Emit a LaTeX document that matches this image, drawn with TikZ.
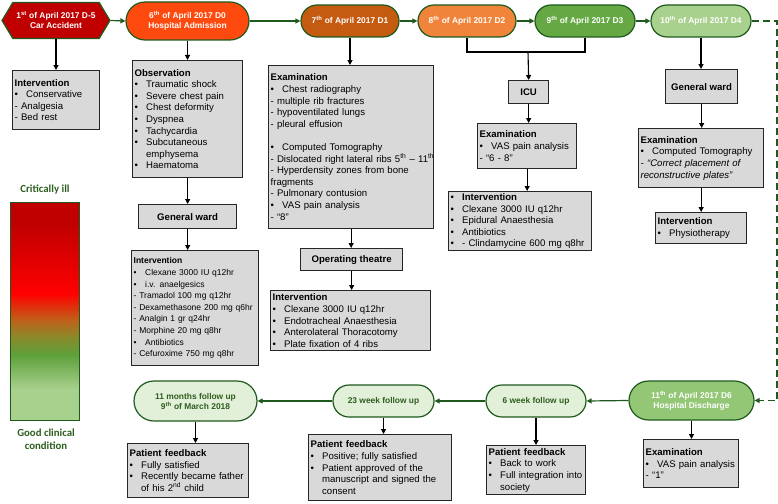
\documentclass[tikz,border=0pt]{standalone}
\usepackage{fontspec}
\setmainfont{Liberation Sans}
\newfontfamily\calfont{Carlito}
\usetikzlibrary{arrows.meta,shapes.misc,shapes.symbols}

\definecolor{accred}{HTML}{C00000}
\definecolor{admred}{HTML}{FF4A0F}
\definecolor{dayone}{HTML}{C55A11}
\definecolor{daytwo}{HTML}{F0843A}
\definecolor{daythree}{HTML}{66A843}
\definecolor{dayfour}{HTML}{A9D18E}
\definecolor{discharge}{HTML}{93C775}
\definecolor{followup}{HTML}{E2F0D9}
\definecolor{linegreen}{HTML}{1E5A1E}
\definecolor{textgreen}{HTML}{2E5E1E}
\definecolor{boxgray}{HTML}{D9D9D9}
\definecolor{shadeA}{HTML}{C00000}
\definecolor{shadeB}{HTML}{FF0000}
\definecolor{shadeC}{HTML}{C0601A}
\definecolor{shadeO}{HTML}{8A8A2A}
\definecolor{shadeD}{HTML}{5EA03A}
\definecolor{shadeE}{HTML}{A9D18E}

\pgfdeclareverticalshading{illness}{100bp}{color(0bp)=(shadeE); color(32bp)=(shadeE);
  color(40bp)=(shadeD); color(44bp)=(shadeO); color(48bp)=(shadeC); color(54bp)=(shadeB);
  color(70bp)=(shadeA); color(100bp)=(shadeA)}

\newcommand{\bl}[1]{\makebox[11.5pt][l]{\textbullet}#1}
\newcommand{\ind}{\hspace*{11.5pt}}

\tikzset{
  daynode/.style={rounded rectangle, draw=linegreen, line width=1.2pt, text=white,
    font=\fontsize{8.4pt}{10pt}\selectfont\bfseries, align=center, inner sep=1pt},
  fupnode/.style={daynode, fill=followup, text=textgreen},
  infobox/.style={draw=black!85, line width=1.3pt, fill=boxgray, anchor=north west,
    align=left, inner xsep=2pt, inner ysep=1.5pt, font=\fontsize{9.6pt}{11.6pt}\selectfont},
  smallbox/.style={infobox, font=\fontsize{8.5pt}{11.6pt}\selectfont},
  wardbox/.style={infobox, align=center, font=\fontsize{9.6pt}{11.6pt}\selectfont\bfseries},
  hdarrow/.style={draw=linegreen, line width=1.2pt, -{Triangle[length=5pt,width=5pt]}},
  dnarrow/.style={draw=black, line width=1.1pt, -{Triangle[length=5pt,width=5pt]}},
  sidelabel/.style={text=textgreen, font=\calfont\fontsize{10.8pt}{13pt}\selectfont\bfseries, align=center}
}

\begin{document}
\begin{tikzpicture}[x=1pt,y=-1pt]
  \useasboundingbox (0,0) rectangle (778,503);

  % timeline, top row
  \node[signal, signal to=west and east, signal pointer angle=118, draw=linegreen,
    line width=1.2pt, fill=accred, text=white, font=\fontsize{8.4pt}{10pt}\selectfont\bfseries,
    align=center, minimum width=108pt, minimum height=36pt, inner sep=1pt] (hex) at (56,20.5)
    {1\textsuperscript{st} of April 2017 D-5\\Car Accident};
  \node[daynode, fill=admred, minimum width=125pt, minimum height=38pt] (adm) at (187.5,21)
    {6\textsuperscript{th} of April 2017 D0\\Hospital Admission};
  \node[daynode, fill=dayone, minimum width=100pt, minimum height=32pt] (d1) at (350,21)
    {7\textsuperscript{th} of April 2017 D1};
  \node[daynode, fill=daytwo, minimum width=100pt, minimum height=32pt] (d2) at (467,21)
    {8\textsuperscript{th} of April 2017 D2};
  \node[daynode, fill=daythree, minimum width=102pt, minimum height=32pt] (d3) at (585,21)
    {9\textsuperscript{th} of April 2017 D3};
  \node[daynode, fill=dayfour, minimum width=102pt, minimum height=32pt] (d4) at (701,21)
    {10\textsuperscript{th} of April 2017 D4};

  % timeline, bottom row
  \node[daynode, fill=discharge, minimum width=127pt, minimum height=39pt] (dis) at (691.5,400.5)
    {11\textsuperscript{th} of April 2017 D6\\Hospital Discharge};
  \node[fupnode, minimum width=102pt, minimum height=32pt] (wk6) at (536,401) {6 week follow up};
  \node[fupnode, minimum width=103pt, minimum height=32pt] (wk23) at (383.5,401) {23 week follow up};
  \node[fupnode, minimum width=125pt, minimum height=40pt] (mo11) at (195.5,401)
    {11 months follow up\\9\textsuperscript{th} of March 2018};

  % D-5
  \node[infobox, text width=83pt, minimum height=59pt] (int0) at (12,70)
    {\textbf{Intervention}\\\bl{Conservative}\\- Analgesia\\- Bed rest};

  % D0
  \node[infobox, text width=106pt, minimum height=117pt] (obs) at (132,60)
    {\textbf{Observation}\\\bl{Traumatic shock}\\\bl{Severe chest pain}\\\bl{Chest deformity}\\
     \bl{Dyspnea}\\\bl{Tachycardia}\\\bl{Subcutaneous}\\\ind emphysema\\\bl{Haematoma}};
  \node[wardbox, minimum width=98pt, minimum height=24pt] (gw1) at (138,204) {General ward};
  \node[smallbox, text width=123pt, minimum height=115pt] (intA) at (131,250)
    {\textbf{Intervention}\\\bl{Clexane 3000 IU q12hr}\\\bl{i.v. anaelgesics}\\- Tramadol 100 mg q12hr\\
     \mbox{- Dexamethasone 200 mg q6hr}\\- Analgin 1 gr q24hr\\- Morphine 20 mg q8hr\\\bl{Antibiotics}\\
     - Cefuroxime 750 mg q8hr};

  % D1
  \node[infobox, text width=161pt, minimum height=163pt] (exam1) at (268,65)
    {\textbf{Examination}\\\bl{Chest radiography}\\- multiple rib fractures\\- hypoventilated lungs\\
     - pleural effusion\\[11.6pt]\bl{Computed Tomography}\\
     \mbox{- Dislocated right lateral ribs 5\textsuperscript{th} – 11\textsuperscript{th}}\\
     - Hyperdensity zones from bone\\fragments\\- Pulmonary contusion\\\bl{VAS pain analysis}\\- “8”};
  \node[wardbox, minimum width=102pt, minimum height=22pt] (ot) at (300,248) {Operating theatre};
  \node[infobox, text width=156pt, minimum height=60pt] (int1) at (270,290)
    {\textbf{Intervention}\\\bl{Clexane 3000 IU q12hr}\\\bl{Endotracheal Anaesthesia}\\
     \bl{Anterolateral Thoracotomy}\\\bl{Plate fixation of 4 ribs}};

  % D2 - D3
  \coordinate (join) at (528,52);
  \node[wardbox, minimum width=40pt, minimum height=23pt] (icu) at (508,80) {ICU};
  \node[infobox, text width=95pt, minimum height=45pt] (exam2) at (477,123)
    {\textbf{Examination}\\\bl{VAS pain analysis}\\- “6 - 8”};
  \node[infobox, text width=139pt, minimum height=59pt] (int2) at (448,191)
    {\bl{\textbf{Intervention}}\\\bl{Clexane 3000 IU q12hr}\\\bl{Epidural Anaesthesia}\\
     \bl{Antibiotics}\\\bl{- Clindamycine 600 mg q8hr}};

  % D4
  \node[wardbox, minimum width=72pt, minimum height=34pt] (gw2) at (665,69) {General ward};
  \node[infobox, text width=121pt, minimum height=59pt] (exam3) at (638,128)
    {\textbf{Examination}\\\bl{Computed Tomography}\\\textit{- “Correct placement of}\\
     \textit{reconstructive plates”}};
  \node[infobox, text width=87pt, minimum height=31pt] (int3) at (655,212)
    {\textbf{Intervention}\\\bl{Physiotherapy}};
  \coordinate (edge) at (777,21);

  % D6 and follow up
  \node[infobox, text width=91pt, minimum height=48pt] (exam4) at (643,439)
    {\textbf{Examination}\\\bl{VAS pain analysis}\\- “1”};
  \node[infobox, text width=95pt, minimum height=49pt] (fb6) at (486,445)
    {\textbf{Patient feedback}\\\bl{Back to work}\\\bl{Full integration into}\\\ind society};
  \node[infobox, text width=139pt, minimum height=66pt] (fb23) at (308,434)
    {\textbf{Patient feedback}\\\bl{Positive; fully satisfied}\\\bl{Patient approved of the}\\
     \ind manuscript and signed the\\\ind consent};
  \node[infobox, text width=117pt, minimum height=54pt] (fb11) at (127,443)
    {\textbf{Patient feedback}\\\bl{Fully satisfied}\\\bl{Recently became father}\\
     \ind of his 2\textsuperscript{nd} child};

  % condition scale
  \shade[shading=illness, draw=linegreen, line width=0.8pt] (10,202) rectangle (79,420);
  \node[sidelabel] (ill) at (45,190) {Critically ill};
  \node[sidelabel] (good) at (46,439) {Good clinical\\condition};

  % connectors
  \foreach \a/\b in {hex/adm,adm/d1,d1/d2,d2/d3,d3/d4}
    \draw[hdarrow] (\a.east) -- (\b.west);
  \foreach \a/\b in {dis/wk6,wk6/wk23,wk23/mo11}
    \draw[hdarrow] (\a.west) -- (\b.east);
  \draw[hdarrow, dash pattern=on 7pt off 4pt] (d4.east) -- (edge) |- (dis.east);
  \foreach \a/\b in {hex/int0,adm/obs,obs/gw1,gw1/intA,d1/exam1,exam1/ot,ot/int1,icu/exam2,
      exam2/int2,d4/gw2,gw2/exam3,exam3/int3,dis/exam4,wk6/fb6,wk23/fb23,mo11/fb11}
    \draw[dnarrow] (\a.south) -- (\a.south |- \b.north);
  \draw[line width=1.1pt] (d2.south) |- (join) -| (d3.south);
  \draw[dnarrow] (join) -- (icu.north);
\end{tikzpicture}
\end{document}
